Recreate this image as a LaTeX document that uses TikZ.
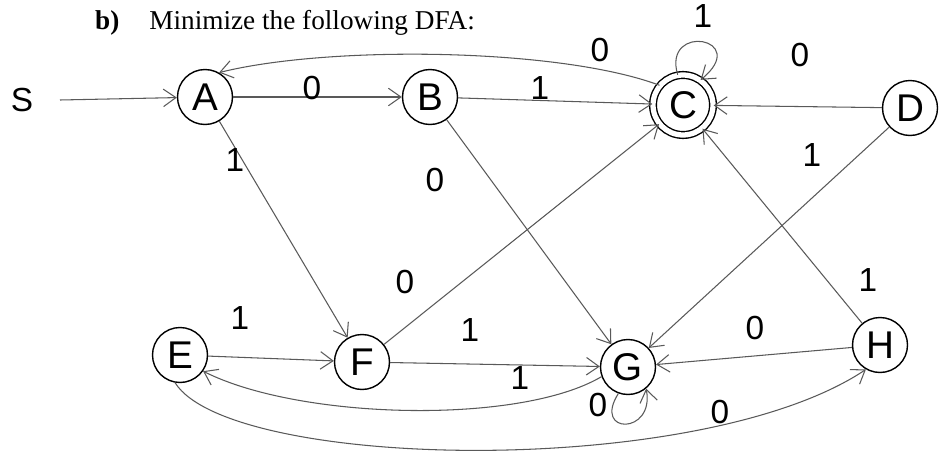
\documentclass[tikz,border=0pt]{standalone}
\usepackage{fontspec}
\setmainfont{Liberation Serif}
\newfontfamily\handfont{Liberation Sans}
\usetikzlibrary{arrows.meta}
\tikzset{%
  state/.style={circle, draw, thick, minimum size=1.1cm, inner sep=0pt,
                font=\handfont\fontsize{22}{22}\selectfont},
  accept/.style={state, double, double distance=3pt, minimum size=1.2cm},
  trans/.style={-{Straight Barb[length=2.5mm,width=3.5mm]}, draw=black!65, semithick},
  lbl/.style={font=\handfont\fontsize{19}{19}\selectfont},
}

\begin{document}
\begin{tikzpicture}[x=0.02cm, y=-0.02cm]
    \useasboundingbox (0,0) rectangle (949,463);

    % title
    \node[anchor=base west, font=\fontsize{15.5}{18}\selectfont] (title) at (89,30)
        {\textbf{b)}\hspace{0.6cm}Minimize the following DFA:};

    % states
    \node[state] (A) at (205,97) {A};
    \node[state] (B) at (430,97) {B};
    \node[accept] (C) at (683,105) {C};
    \node[state] (D) at (910,108) {D};
    \node[state] (E) at (180,355) {E};
    \node[state] (F) at (362,362) {F};
    \node[state] (G) at (628,367) {G};
    \node[state] (H) at (880,345) {H};

    % start
    \node[lbl] (S) at (22,100) {S};
    \coordinate (start) at (60,100);
    \draw[trans] (start) -- (A);

    % straight transitions
    \draw[trans] (A) -- (B);
    \draw[trans] (B) -- (C);
    \draw[trans] (D) -- (C);
    \draw[trans] (D) -- (G);
    \draw[trans] (A) -- (F);
    \draw[trans] (B) -- (G);
    \draw[trans] (F) -- (C);
    \draw[trans] (E) -- (F);
    \draw[trans] (F) -- (G);
    \draw[trans] (H) -- (G);
    \draw[trans] (H) -- (C);

    % curved transitions and loops
    \draw[trans] (C.140) .. controls (560,48) and (330,45) .. (A.60);
    \draw[trans] (C.100) .. controls (662,22) and (752,38) .. (C.55);
    \draw[trans] (G.-110) .. controls (592,435) and (655,435) .. (G.-50);
    \draw[trans] (G.200) .. controls (520,425) and (300,420) .. (E.-35);
    \draw[trans] (E.-100) .. controls (230,470) and (700,480) .. (H.-120);

    % labels
    \node[lbl] (lAB) at (312,88) {0};
    \node[lbl] (lBC) at (540,88) {1};
    \node[lbl] (lCA) at (600,50) {0};
    \node[lbl] (lCC) at (703,16) {1};
    \node[lbl] (lDC) at (800,55) {0};
    \node[lbl] (lDG) at (812,155) {1};
    \node[lbl] (lAF) at (235,160) {1};
    \node[lbl] (lBG) at (435,180) {0};
    \node[lbl] (lFC) at (405,282) {0};
    \node[lbl] (lEF) at (240,318) {1};
    \node[lbl] (lFG) at (470,330) {1};
    \node[lbl] (lHG) at (755,328) {0};
    \node[lbl] (lHC) at (868,280) {1};
    \node[lbl] (lGG) at (598,405) {0};
    \node[lbl] (lGE) at (520,378) {1};
    \node[lbl] (lEH) at (720,412) {0};

\end{tikzpicture}
\end{document}
